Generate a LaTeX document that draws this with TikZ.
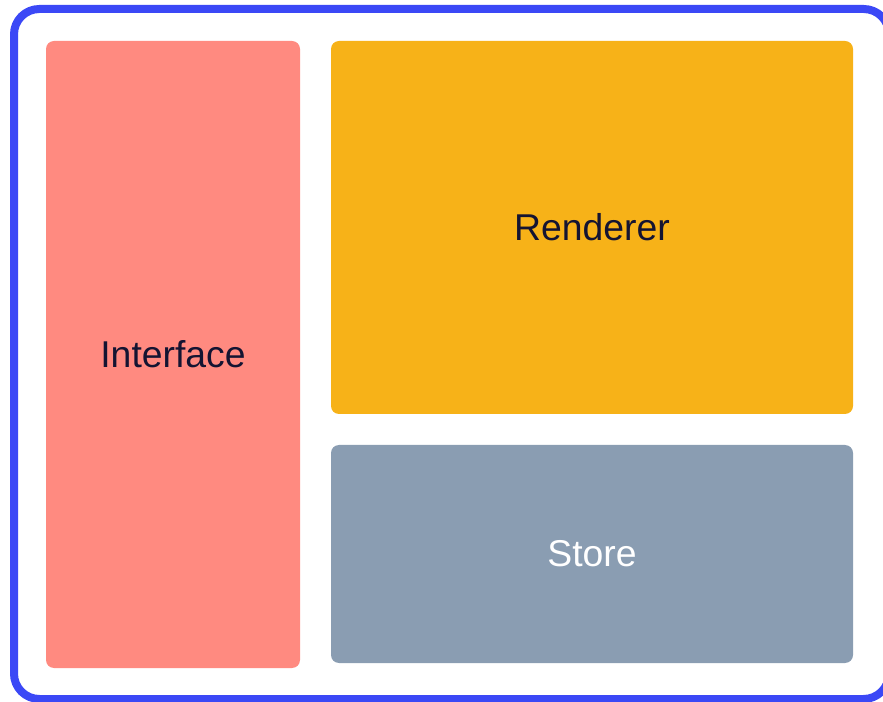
\documentclass[tikz,border=0pt]{standalone}
\usepackage{fontspec}
\setmainfont{Liberation Sans}
\usetikzlibrary{positioning}
\definecolor{framecol}{RGB}{59,72,246}
\definecolor{ifacecol}{RGB}{255,138,128}
\definecolor{rendcol}{RGB}{247,178,24}
\definecolor{storecol}{RGB}{138,157,178}
\definecolor{labelcol}{RGB}{20,20,50}

\begin{document}
\begin{tikzpicture}[x=0.75pt, y=-0.75pt,
    block/.style={rounded corners=6pt, inner sep=0pt,
      font=\fontsize{28}{32}\selectfont}]
    \useasboundingbox (0,0) rectangle (883,702);
    \draw[framecol, line width=6pt, rounded corners=19pt] (14,9) rectangle (889,699);%
    \node[block, fill=ifacecol, text=labelcol, minimum width=190.5pt,
      minimum height=470.25pt] (iface) at (173,354.5) {Interface};%
    \node[block, fill=rendcol, text=labelcol, minimum width=391.5pt,
      minimum height=279.75pt] (rend) at (592,227.5) {Renderer};%
    \node[block, fill=storecol, text=white, minimum width=391.5pt,
      minimum height=163.5pt] (store) at (592,554) {Store};%
  \end{tikzpicture}
\end{document}
